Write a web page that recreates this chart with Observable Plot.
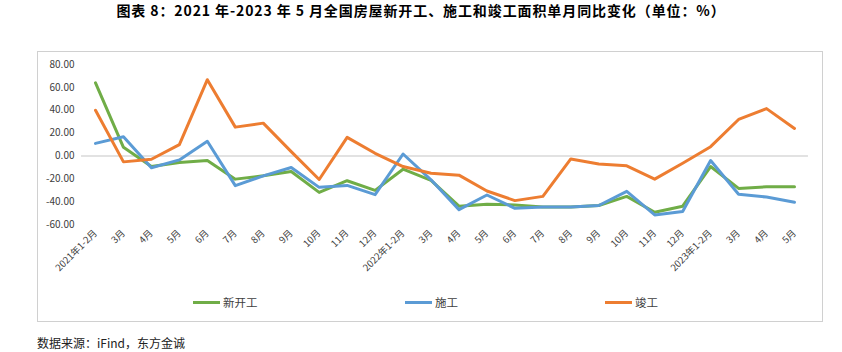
<!DOCTYPE html>
<html>
<head>
<meta charset="utf-8">
<script src="https://cdn.jsdelivr.net/npm/d3@7"></script>
<script src="https://cdn.jsdelivr.net/npm/@observablehq/plot@0.6"></script>
<style>
  html, body { margin: 0; padding: 0; background: #fff; }
  body { width: 842px; height: 352px; position: relative; overflow: hidden; font-family: "Noto Sans CJK SC", "Noto Sans", sans-serif; }
  #title { position: absolute; left: 0; top: 1px; width: 842px; height: 18px; line-height: 18px; text-align: center; font-size: 14px; letter-spacing: 0.9px; font-weight: bold; color: #000; white-space: nowrap; }
  #frame { position: absolute; left: 37px; top: 51px; width: 784px; height: 269px; border: 1px solid #d0d0d0; box-sizing: content-box; }
  #chart { position: absolute; left: 37px; top: 51px; }
  #legend { position: absolute; left: 0; top: 293px; width: 842px; height: 18px; font-size: 11.5px; color: #404040; }
  .item { position: absolute; top: 0; display: flex; align-items: center; height: 18px; }
  .swatch { width: 27px; height: 3px; margin-right: 3px; }
  #source { position: absolute; left: 37px; top: 334px; font-size: 12px; color: #222; white-space: nowrap; }
</style>
</head>
<body>
<div id="title">图表 8：2021 年-2023 年 5 月全国房屋新开工、施工和竣工面积单月同比变化（单位：%）</div>
<div id="frame"></div>
<div id="chart"></div>
<div id="legend"></div>
<div id="source">数据来源：iFind，东方金诚</div>
<script>
const categories = ["2021年1-2月","3月","4月","5月","6月","7月","8月","9月","10月","11月","12月",
  "2022年1-2月","3月","4月","5月","6月","7月","8月","9月","10月","11月","12月",
  "2023年1-2月","3月","4月","5月"];
const seriesNames = ["新开工","施工","竣工"];
const seriesColors = ["#70ad47","#5b9bd5","#ed7d31"];
const newStarts = [64,7.5,-9.3,-5.8,-4,-20.3,-17.4,-13.6,-31.9,-21.7,-30.1,-11.6,-21.4,
  -44,-42.3,-42.9,-44.6,-44.6,-43.4,-35.4,-49.3,-44,-9.3,-28.4,-27,-27];
const construction = [11,16.8,-10.4,-3.5,12.8,-26,-17.4,-10.1,-27.5,-25.8,-33.9,1.7,-20.9,
  -47,-34.2,-45.8,-44.6,-44.6,-43.4,-31,-51.6,-48.7,-4,-33.6,-36,-40.6];
const completions = [40,-5.2,-2.9,9.9,66.7,25.2,28.7,3.8,-20.6,16.2,2.3,-9.3,-15.1,
  -16.8,-30.7,-39.1,-35.4,-2.6,-7,-8.7,-20.3,-6.4,8.1,31.9,41.4,24];
const yTicks = [-60,-40,-20,0,20,40,60,80];

const seriesValues = [newStarts, construction, completions];
const n = categories.length;
const font = '"Noto Sans CJK SC", "Noto Sans", sans-serif';

const lineMarks = seriesValues.map((vals, k) =>
  Plot.line(vals.map((v, i) => ({i, v})), {
    x: "i", y: "v", stroke: seriesColors[k], strokeWidth: 3,
    strokeLinejoin: "round", strokeLinecap: "round"
  })
);

const chart = Plot.plot({
  width: 785,
  height: 240,
  marginLeft: 58,
  marginRight: 28,
  marginTop: 13,
  marginBottom: 67,
  style: { fontFamily: font, fontSize: "9.5px", color: "#595959", background: "transparent", overflow: "visible" },
  x: { type: "linear", domain: [0, n - 1], label: null },
  y: { domain: [-60, 80], label: null },
  marks: [
    Plot.ruleY([0], { x1: () => -0.5, x2: () => n - 0.5, stroke: "#d9d9d9", strokeWidth: 1.5 }),
    Plot.axisY({ ticks: yTicks, tickFormat: d => d.toFixed(2), tickSize: 0, tickPadding: 21, fontSize: 10, fill: "#404040", label: null }),
    Plot.axisX({ ticks: d3.range(n), tickFormat: i => categories[i], tickRotate: -45, tickSize: 0, tickPadding: 7, fontSize: 9.5, fill: "#404040", label: null }),
    ...lineMarks
  ]
});
document.getElementById("chart").appendChild(chart);

const legend = document.getElementById("legend");
const legendX = [193, 405, 605];
seriesNames.forEach((name, k) => {
  const item = document.createElement("div");
  item.className = "item";
  item.style.left = legendX[k] + "px";
  const sw = document.createElement("div");
  sw.className = "swatch";
  sw.style.background = seriesColors[k];
  const t = document.createElement("span");
  t.textContent = name;
  item.appendChild(sw);
  item.appendChild(t);
  legend.appendChild(item);
});
</script>
</body>
</html>
